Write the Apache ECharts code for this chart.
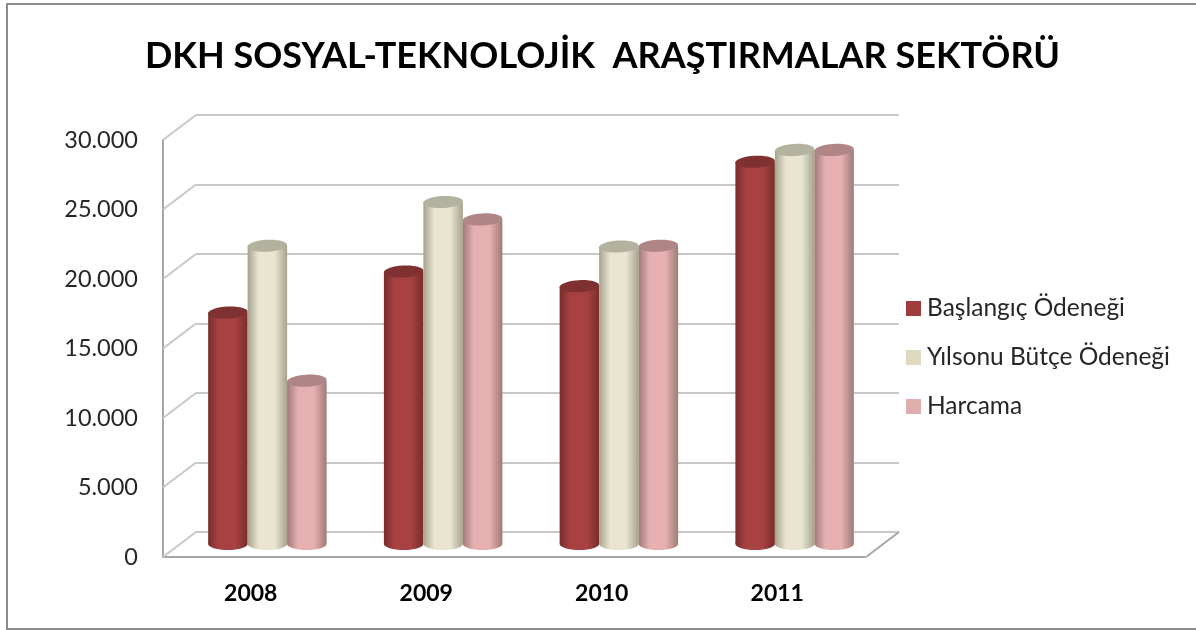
<!DOCTYPE html>
<html>
<head>
<meta charset="utf-8">
<style>
  html, body { margin: 0; padding: 0; background: #fff; }
  #chart { width: 1196px; height: 630px; }
  #frame {
    position: absolute; left: 6px; top: 3px; width: 1188px; height: 623px;
    border: 2px solid #8c8c8c; border-right-color: #c4c4c4; pointer-events: none;
  }
</style>
<script src="https://cdn.jsdelivr.net/npm/echarts@6/dist/echarts.min.js"></script>
</head>
<body>
<div id="chart"></div>
<div id="frame"></div>
<script>
const years = ['2008', '2009', '2010', '2011'];
const baslangic = [16650, 19600, 18550, 27500];
const yilsonu = [21450, 24600, 21400, 28350];
const harcama = [11750, 23350, 21450, 28350];
const wallTicks = [0, 5000, 10000, 15000, 20000, 25000, 30000];

const FONT = 'Lato';
const DEPTH_X = 33;
const DEPTH_Y = 25;
const CAP_H = 12;

const cylinderColors = [
  { legend: '#a03c3c', edge: '#7a2c2c', mid: '#a84242', cap: '#7f3030' },
  { legend: '#ddd9c3', edge: '#a5a38e', mid: '#e9e5d0', cap: '#b3b29e' },
  { legend: '#e0aeae', edge: '#a07a7a', mid: '#e6b0b0', cap: '#b08585' },
];

function sideFill(c) {
  return new echarts.graphic.LinearGradient(0, 0, 1, 0, [
    { offset: 0, color: c.edge },
    { offset: 0.28, color: c.mid },
    { offset: 0.68, color: c.mid },
    { offset: 1, color: c.edge },
  ]);
}

function renderCylinder(params, api) {
  const layout = api.barLayout({ count: 3, barGap: 0, barCategoryGap: '32.6%' });
  const c = cylinderColors[params.seriesIndex - 1];
  const top = api.coord([api.value(0), api.value(1)]);
  const base = api.coord([api.value(0), 0]);
  const slot = layout[params.seriesIndex - 1];
  const x = top[0] + slot.offsetCenter;
  const w = slot.width;
  const rx = w / 2;
  const ry = CAP_H / 2;
  return {
    type: 'group',
    children: [
      {
        type: 'ellipse',
        shape: { cx: x, cy: base[1], rx: rx, ry: ry },
        style: { fill: sideFill(c) },
      },
      {
        type: 'rect',
        shape: { x: x - rx, y: top[1], width: w, height: base[1] - top[1] },
        style: { fill: sideFill(c) },
      },
      {
        type: 'ellipse',
        shape: { cx: x, cy: top[1], rx: rx, ry: ry },
        rotation: 0.05,
        originX: x,
        originY: top[1],
        style: { fill: c.cap },
      },
    ],
  };
}

// the slanted lines that join the front axis to the back wall
function renderDepthLine(params, api) {
  const y = api.coord([0, api.value(0)])[1];
  const left = params.coordSys.x;
  return {
    type: 'line',
    shape: { x1: left, y1: y, x2: left - DEPTH_X, y2: y + DEPTH_Y },
    style: { stroke: '#c8c8c8', lineWidth: 2 },
  };
}

function renderFloorEdge(params, api) {
  const y = api.coord([0, 0])[1];
  const right = params.coordSys.x + params.coordSys.width;
  return {
    type: 'line',
    shape: { x1: right, y1: y, x2: right - DEPTH_X, y2: y + DEPTH_Y },
    style: { stroke: '#a6a6a6', lineWidth: 2 },
  };
}

function cylinderSeries(name, values, i) {
  return {
    name: name,
    type: 'custom',
    xAxisIndex: 1,
    yAxisIndex: 1,
    renderItem: renderCylinder,
    itemStyle: { color: cylinderColors[i].legend },
    encode: { x: 0, y: 1 },
    data: values.map((v, idx) => [idx, v]),
    z: 5,
  };
}

const chart = echarts.init(document.getElementById('chart'));
chart.setOption({
  animation: false,
  backgroundColor: '#fff',
  title: {
    text: 'DKH SOSYAL-TEKNOLOJİK  ARAŞTIRMALAR SEKTÖRÜ',
    left: 597.5,
    top: 33,
    textAlign: 'center',
    textStyle: { fontFamily: FONT, fontSize: 36, fontWeight: 'bold', color: '#000' },
  },
  legend: {
    orient: 'vertical',
    left: 901,
    top: 291,
    itemWidth: 15,
    itemHeight: 15,
    itemGap: 24,
    icon: 'rect',
    data: ['Başlangıç Ödeneği', 'Yılsonu Bütçe Ödeneği', 'Harcama'],
    textStyle: { fontFamily: FONT, fontSize: 24.5, color: '#262626', padding: [0, 0, 0, 1] },
  },
  grid: [
    { left: 196, top: 115, width: 703, height: 417 },
    { left: 179.5, top: 127, width: 703, height: 417 },
    { left: 163, top: 140, width: 702, height: 417 },
  ],
  xAxis: [
    { gridIndex: 0, type: 'category', data: years, show: false },
    { gridIndex: 1, type: 'category', data: years, show: false },
    {
      gridIndex: 2,
      type: 'category',
      data: years,
      axisLine: { lineStyle: { color: '#a6a6a6', width: 2 } },
      axisTick: { show: false },
      axisLabel: { margin: 25, fontFamily: FONT, fontSize: 23, fontWeight: 'bold', color: '#000' },
    },
  ],
  yAxis: [
    {
      gridIndex: 0,
      type: 'value',
      min: 0,
      max: 30000,
      interval: 5000,
      axisLine: { show: false },
      axisTick: { show: false },
      axisLabel: { show: false },
      splitLine: { lineStyle: { color: '#c8c8c8', width: 2 } },
    },
    { gridIndex: 1, type: 'value', min: 0, max: 30000, interval: 5000, show: false, splitLine: { show: false } },
    {
      gridIndex: 2,
      type: 'value',
      min: 0,
      max: 30000,
      interval: 5000,
      axisLine: { show: true, lineStyle: { color: '#a6a6a6', width: 2 } },
      axisTick: { show: false },
      splitLine: { show: false },
      axisLabel: {
        margin: 25,
        fontFamily: FONT,
        fontSize: 23.5,
        color: '#262626',
        formatter: (v) => String(v).replace(/\B(?=(\d{3})+$)/g, '.'),
      },
    },
  ],
  series: [
    {
      type: 'custom',
      xAxisIndex: 0,
      yAxisIndex: 0,
      renderItem: renderDepthLine,
      encode: { y: 0 },
      data: wallTicks.map((t) => [t]),
      silent: true,
      z: 1,
    },
    cylinderSeries('Başlangıç Ödeneği', baslangic, 0),
    cylinderSeries('Yılsonu Bütçe Ödeneği', yilsonu, 1),
    cylinderSeries('Harcama', harcama, 2),
    {
      type: 'custom',
      xAxisIndex: 0,
      yAxisIndex: 0,
      renderItem: renderFloorEdge,
      encode: { y: 0 },
      data: [[0]],
      silent: true,
      z: 1,
    },
  ],
});
</script>
</body>
</html>
